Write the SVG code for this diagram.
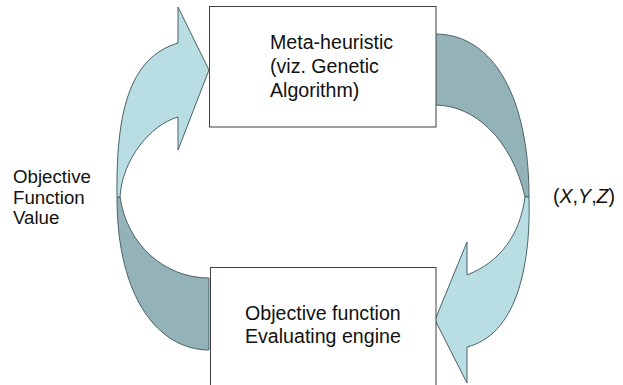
<svg xmlns="http://www.w3.org/2000/svg" width="623" height="385" viewBox="0 0 623 385">
<style>
.box{fill:#fff;stroke:#404040;stroke-width:1}
.lt{fill:#b8dee4;stroke:#4a6367;stroke-width:1;stroke-linejoin:round}
.dk{fill:#94b3b8;stroke:#4a6367;stroke-width:1;stroke-linejoin:round}
text{font-family:"Liberation Sans",Arial,sans-serif;fill:#111;font-size:19.6px}
</style>
<rect width="623" height="385" fill="#fff"/>
<g id="connectors">
<g id="arrow-left">
<path class="dk" d="M120,197 C127,245 165,278 209,278 L209,350 C160,350 117,300 117,197 Z"/>
<path class="lt" d="M178,43 L178,7 L209,70 L178,150 L178,117 C150,125 122,160 120,197 L117,197 C116,115 128,58 178,43 Z"/>
</g>
<g id="arrow-right">
<path class="dk" d="M435,34 C495,34 529,100 529,197 L525,197 C512,140 475,105 435,105 Z"/>
<path class="lt" d="M529,197 C531,270 515,335 467,347 L467,383 L435,320 L467,242 L467,275 C500,262 520,235 525,197 Z"/>
</g>
</g>
<g id="node-meta">
<rect class="box" x="209.5" y="6.5" width="226.5" height="120.5"/>
<text x="270" y="49">Meta-heuristic</text>
<text x="270" y="73">(viz. Genetic</text>
<text x="270" y="97">Algorithm)</text>
</g>
<g id="node-eval">
<rect class="box" x="210.5" y="267.5" width="225.5" height="130"/>
<text x="245" y="320">Objective function</text>
<text x="245" y="343">Evaluating engine</text>
</g>
<g id="label-ofv">
<text x="13" y="183" style="font-size:18.7px">Objective</text>
<text x="13" y="204" style="font-size:18.7px">Function</text>
<text x="13" y="224" style="font-size:18.7px">Value</text>
</g>
<g id="label-xyz">
<text x="553" y="203">(<tspan font-style="italic">X</tspan>,<tspan font-style="italic">Y</tspan>,<tspan font-style="italic">Z</tspan>)</text>
</g>
</svg>
